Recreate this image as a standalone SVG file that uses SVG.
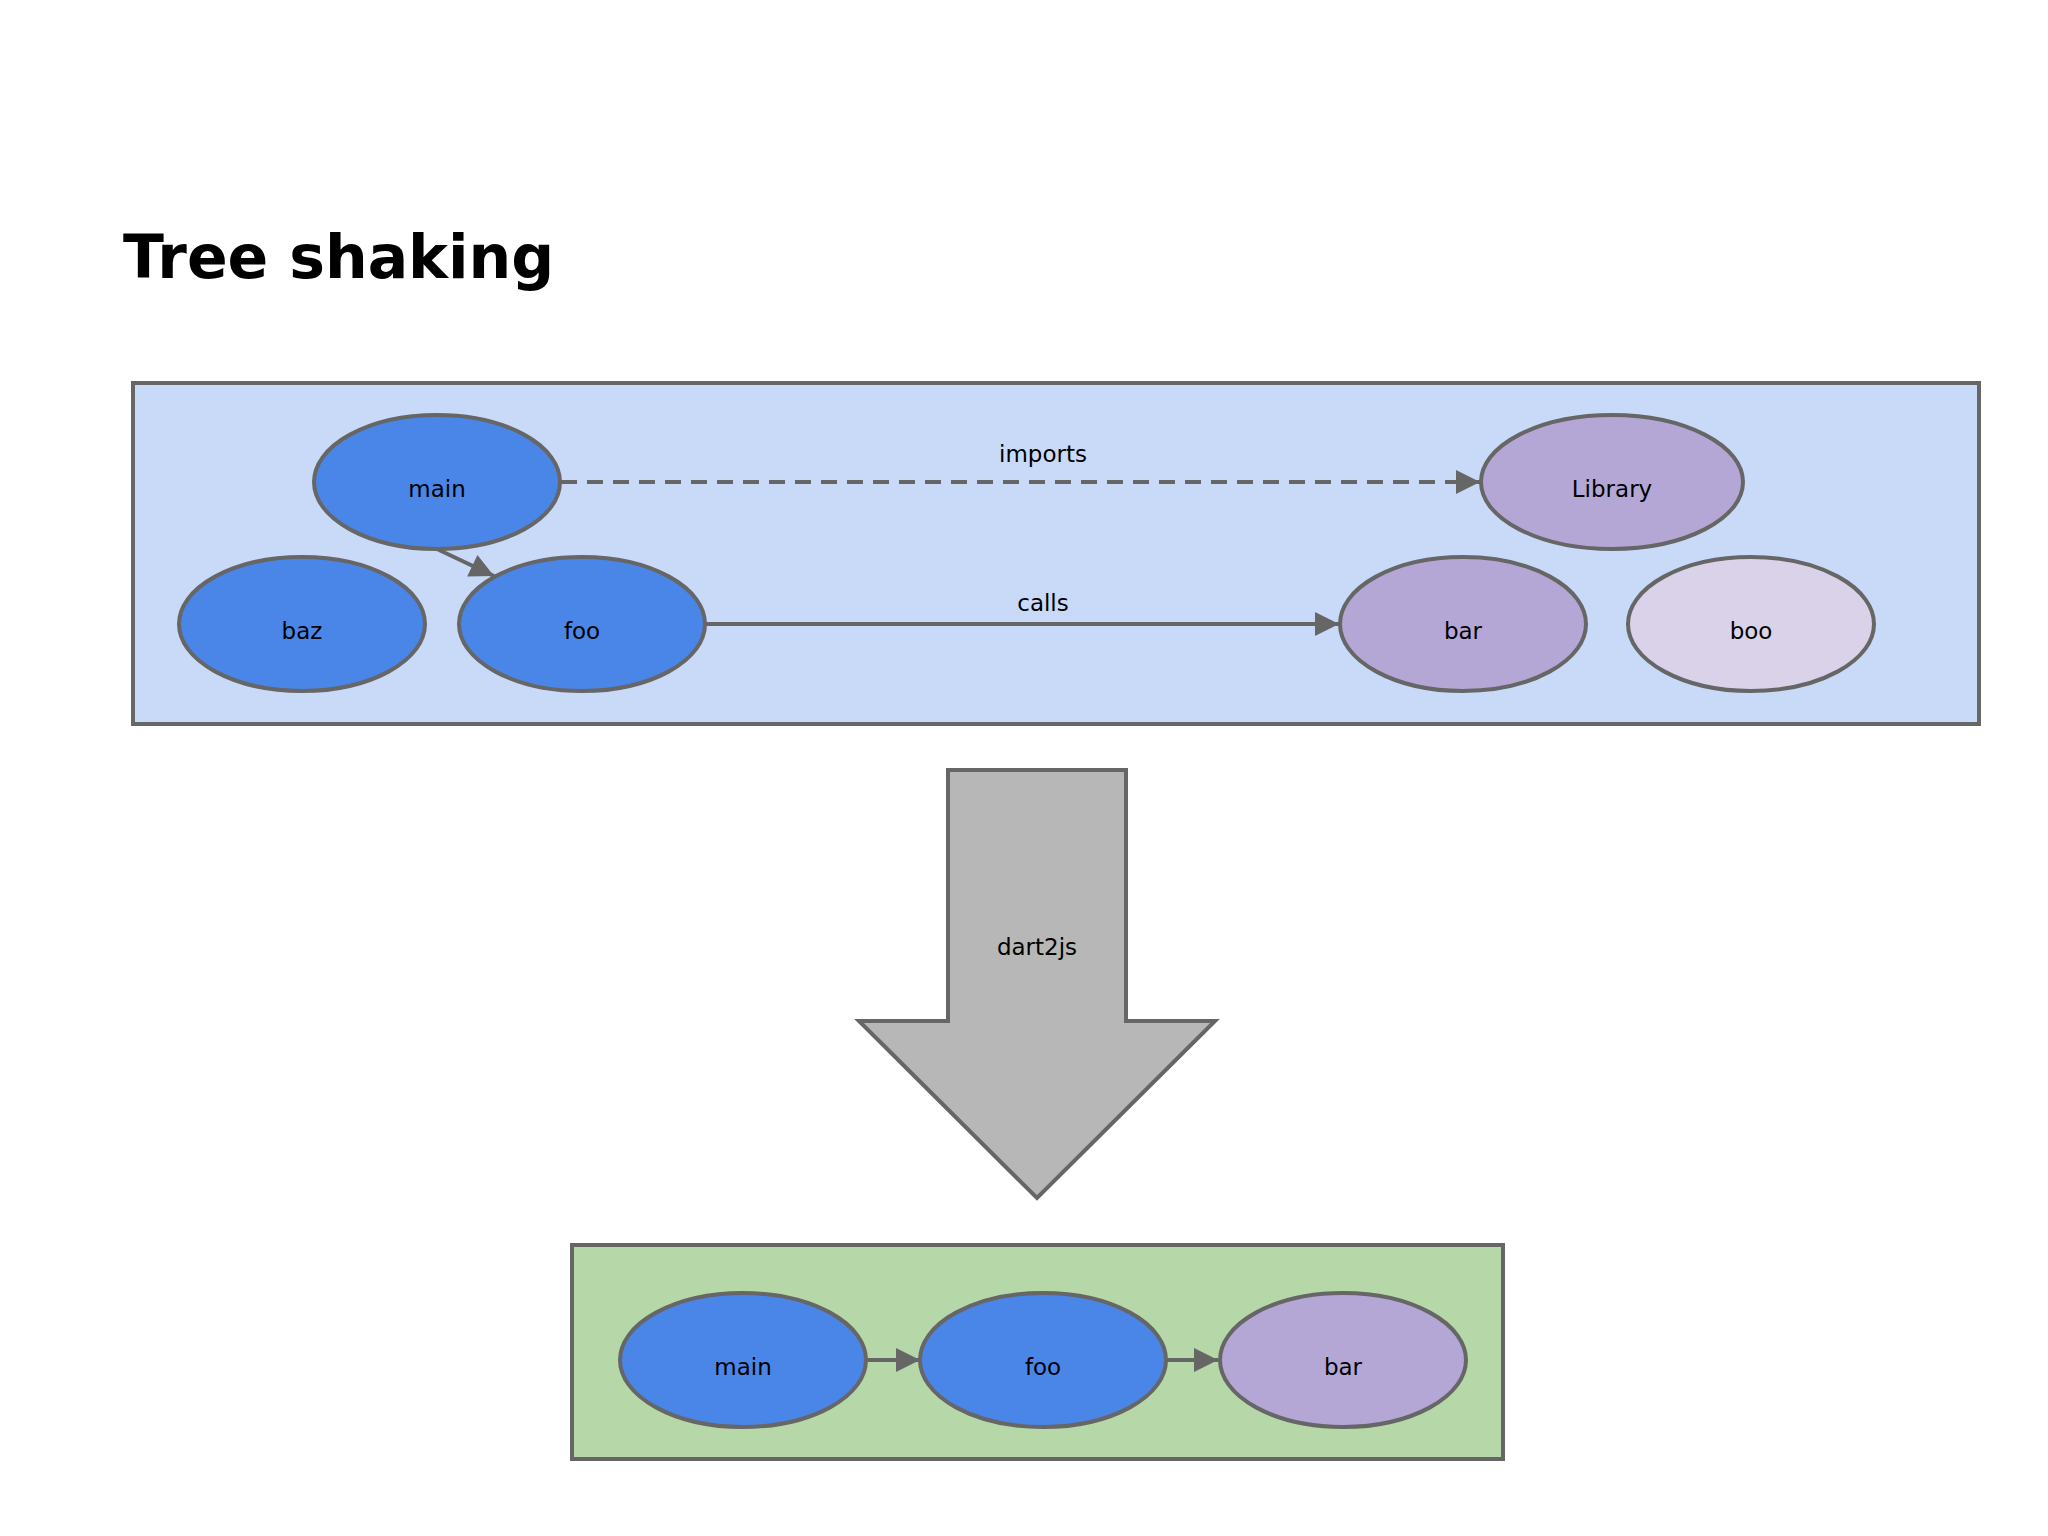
<svg xmlns="http://www.w3.org/2000/svg" width="2048" height="1536" viewBox="0 0 2048 1536">
<style>
text{font-family:"DejaVu Sans",sans-serif;fill:#000}
.n{font-size:23px;text-anchor:middle;dominant-baseline:middle}
.e{stroke:#666;stroke-width:4}
.b{fill:#4a86e8}.p{fill:#b4a7d6}.l{fill:#d9d2e9}
.c{stroke:#666;stroke-width:4;fill:none}
</style>
<defs><marker id="a" viewBox="0 0 10 10" refX="10" refY="5" markerWidth="7" markerHeight="6" markerUnits="strokeWidth" orient="auto"><path d="M0,0L10,5L0,10z" fill="#666"/></marker></defs>
<rect width="2048" height="1536" fill="#fff"/>
<text x="123" y="278" style="font-size:60px;font-weight:bold">Tree shaking</text>
<g id="top"><rect x="133" y="383" width="1846" height="341" fill="#c9daf8" class="e"/></g>
<g id="bottom"><rect x="572" y="1245" width="931" height="214" fill="#b6d7a8" class="e"/></g>
<g id="dart2js"><path d="M948,770H1126V1021H1215L1037,1198L859,1021H948Z" fill="#b7b7b7" class="e"/><text class="n" x="1037" y="948">dart2js</text></g>
<g id="connectors">
<path class="c" d="M561,482H1480" stroke-dasharray="16,10" marker-end="url(#a)"/>
<text class="n" x="1043" y="455">imports</text>
<path class="c" d="M705,624H1339" marker-end="url(#a)"/>
<text class="n" x="1043" y="604">calls</text>
<path class="c" d="M437,549L494,576" marker-end="url(#a)"/>
<path class="c" d="M866,1360H920" marker-end="url(#a)"/>
<path class="c" d="M1166,1360H1218" marker-end="url(#a)"/>
</g>
<g id="main"><ellipse class="e b" cx="437" cy="482" rx="123" ry="67"/><text class="n" x="437" y="490">main</text></g>
<g id="library"><ellipse class="e p" cx="1612" cy="482" rx="131" ry="67"/><text class="n" x="1612" y="490">Library</text></g>
<g id="baz"><ellipse class="e b" cx="302" cy="624" rx="123" ry="67"/><text class="n" x="302" y="632">baz</text></g>
<g id="foo"><ellipse class="e b" cx="582" cy="624" rx="123" ry="67"/><text class="n" x="582" y="632">foo</text></g>
<g id="bar"><ellipse class="e p" cx="1463" cy="624" rx="123" ry="67"/><text class="n" x="1463" y="632">bar</text></g>
<g id="boo"><ellipse class="e l" cx="1751" cy="624" rx="123" ry="67"/><text class="n" x="1751" y="632">boo</text></g>
<g id="main2"><ellipse class="e b" cx="743" cy="1360" rx="123" ry="67"/><text class="n" x="743" y="1368">main</text></g>
<g id="foo2"><ellipse class="e b" cx="1043" cy="1360" rx="123" ry="67"/><text class="n" x="1043" y="1368">foo</text></g>
<g id="bar2"><ellipse class="e p" cx="1343" cy="1360" rx="123" ry="67"/><text class="n" x="1343" y="1368">bar</text></g>
</svg>
